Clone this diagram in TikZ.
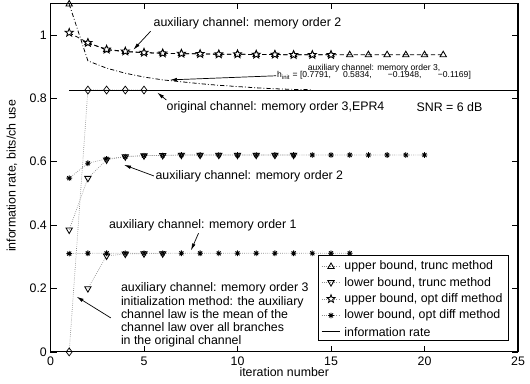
\documentclass[tikz,border=0pt]{standalone}
\usepackage{fontspec}
\setmainfont{Liberation Sans}
\usetikzlibrary{arrows.meta, plotmarks}

% open five-pointed star mark
\pgfdeclareplotmark{pentagram}{%
  \pgfpathmoveto{\pgfpointpolar{90}{\pgfplotmarksize}}%
  \pgfpathlineto{\pgfpointpolar{126}{0.42\pgfplotmarksize}}%
  \pgfpathlineto{\pgfpointpolar{162}{\pgfplotmarksize}}%
  \pgfpathlineto{\pgfpointpolar{198}{0.42\pgfplotmarksize}}%
  \pgfpathlineto{\pgfpointpolar{234}{\pgfplotmarksize}}%
  \pgfpathlineto{\pgfpointpolar{270}{0.42\pgfplotmarksize}}%
  \pgfpathlineto{\pgfpointpolar{306}{\pgfplotmarksize}}%
  \pgfpathlineto{\pgfpointpolar{342}{0.42\pgfplotmarksize}}%
  \pgfpathlineto{\pgfpointpolar{18}{\pgfplotmarksize}}%
  \pgfpathlineto{\pgfpointpolar{54}{0.42\pgfplotmarksize}}%
  \pgfpathclose
  \pgfusepathqfillstroke
}

% eight-armed asterisk (plus and cross)
\pgfdeclareplotmark{octast}{%
  \pgfpathmoveto{\pgfqpoint{-\pgfplotmarksize}{0pt}}%
  \pgfpathlineto{\pgfqpoint{\pgfplotmarksize}{0pt}}%
  \pgfpathmoveto{\pgfqpoint{0pt}{-\pgfplotmarksize}}%
  \pgfpathlineto{\pgfqpoint{0pt}{\pgfplotmarksize}}%
  \pgfpathmoveto{\pgfpoint{-0.707\pgfplotmarksize}{-0.707\pgfplotmarksize}}%
  \pgfpathlineto{\pgfpoint{0.707\pgfplotmarksize}{0.707\pgfplotmarksize}}%
  \pgfpathmoveto{\pgfpoint{-0.707\pgfplotmarksize}{0.707\pgfplotmarksize}}%
  \pgfpathlineto{\pgfpoint{0.707\pgfplotmarksize}{-0.707\pgfplotmarksize}}%
  \pgfusepathqstroke
}

\definecolor{dotgray}{gray}{0.55}

\begin{document}
\begin{tikzpicture}[x=0.4675cm, y=7.925cm,
    lbl/.style={font=\fontsize{8.8}{10.5}\selectfont, inner sep=1pt},
    initlbl/.style={lbl, font=\fontsize{8.8}{9.4}\selectfont, align=left},
    smalllbl/.style={font=\fontsize{6.1}{7}\selectfont, inner sep=0.5pt},
    axisframe/.style={line width=0.8pt},
    lblarrow/.style={-{Latex[length=5pt, width=2.6pt]}, line width=0.5pt},
    uptri/.style={mark=triangle, mark size=2.6pt, mark options={solid, black, fill=white, line width=0.6pt}},
    dntri/.style={mark=triangle, mark size=2.6pt, mark options={solid, black, fill=white, line width=0.6pt, rotate=180}},
    pent/.style={mark=pentagram, mark size=3pt, mark options={solid, black, fill=white, line width=0.6pt}},
    ast/.style={mark=octast, mark size=2pt, mark options={solid, black, line width=0.6pt}},
    diam/.style={mark=diamond, mark size=2.8pt, mark options={solid, black, fill=white, line width=0.5pt}},
    upcurve/.style={dash pattern=on 3pt off 2pt, line width=0.55pt},
    dashdot/.style={dash pattern=on 3pt off 1.5pt on 0.6pt off 1.5pt, line width=0.55pt},
    lowcurve/.style={dotgray, densely dotted, line width=0.5pt},
  ]
  \useasboundingbox (-2.70,-0.101) rectangle (25.64,1.110);

  % lower bounds, memory order 1 and 2
  \draw[lowcurve, ast] plot coordinates {(1,0.310) (2,0.311) (3,0.311) (4,0.311)
    (5,0.311) (6,0.311) (7,0.311) (8,0.311) (9,0.311) (10,0.311) (11,0.311)
    (12,0.311) (13,0.311) (14,0.311) (15,0.311) (16,0.311)};
  \draw[lowcurve, dntri] plot coordinates {(2,0.200) (3,0.303) (4,0.309) (5,0.310) (6,0.310)};
  \draw[lowcurve, ast] plot coordinates {(1,0.548) (2,0.595) (3,0.609) (4,0.616)
    (5,0.619) (6,0.620) (7,0.621) (8,0.621) (9,0.621) (10,0.621) (11,0.621)
    (12,0.621) (13,0.621) (14,0.621) (15,0.621) (16,0.621) (17,0.621) (18,0.621)
    (19,0.621) (20,0.621)};
  \draw[lowcurve, dntri] plot coordinates {(1,0.385) (2,0.548) (3,0.606) (4,0.616)
    (5,0.619) (6,0.620) (7,0.621) (8,0.621) (9,0.621) (10,0.621) (11,0.621)
    (12,0.621) (13,0.621)};

  % mean-law initialisation, memory order 3
  \draw[lowcurve, diam] plot coordinates {(1,0) (2,0.826) (3,0.826) (4,0.826) (5,0.826)};

  % information rate
  \draw[line width=0.5pt] (1,0.826) -- (25,0.826);

  % memory order 3 upper bound
  \draw[dashdot, uptri, mark indices={1}] plot coordinates {(1,1.097) (2,0.918)
    (3,0.895) (4,0.879) (5,0.867) (6,0.858) (7,0.852) (8,0.846) (9,0.841)
    (10,0.837) (11,0.833) (12,0.830) (13,0.828) (14,0.827)};

  % upper bounds, memory order 2
  \draw[upcurve, uptri] plot coordinates {(2,0.975) (3,0.953) (4,0.947) (5,0.944)
    (6,0.942) (7,0.941) (8,0.940) (9,0.939) (10,0.939) (11,0.938) (12,0.938)
    (13,0.937) (14,0.937) (15,0.937) (16,0.937) (17,0.937) (18,0.937) (19,0.937)
    (20,0.937) (21,0.937)};
  \draw[upcurve, pent] plot coordinates {(1,1.007) (2,0.975) (3,0.954) (4,0.948)
    (5,0.944) (6,0.942) (7,0.941) (8,0.940) (9,0.939) (10,0.939) (11,0.938)
    (12,0.938) (13,0.937) (14,0.937) (15,0.937)};

  % axes box and ticks
  \draw[axisframe] (0,0) rectangle (25,1.1);
  \foreach \xt in {0,5,...,25} {
    \draw[line width=0.5pt] (\xt,0) -- ++(0,4.5pt);
    \draw[line width=0.5pt] (\xt,1.1) -- ++(0,-4.5pt);
    \node[lbl, anchor=north, inner sep=3.2pt] (xt\xt) at (\xt,0) {\xt};
  }
  \foreach \yt [count=\i] in {0,0.2,0.4,0.6,0.8,1} {
    \draw[line width=0.5pt] (0,\yt) -- ++(4.5pt,0);
    \draw[line width=0.5pt] (25,\yt) -- ++(-4.5pt,0);
    \node[lbl, anchor=east, inner sep=2.4pt] (yt\i) at (0,\yt) {\yt};
  }
  \node[lbl] (xlbl) at (12.5,-0.063) {iteration number};
  \node[lbl, rotate=90] (ylbl) at (-2.06,0.555) {information rate, bits/ch use};

  % curve labels
  \node[lbl, anchor=west] (auxtwotop) at (5.43,1.035) {auxiliary channel: memory order 2};
  \coordinate (auxtwotoptip) at (4.43,0.953);
  \draw[lblarrow] ([xshift=-1pt]auxtwotop.south west) -- (auxtwotoptip);

  \node[smalllbl] (auxthreelbl) at (17.3,0.894) {auxiliary channel: memory order 3,};
  \node[smalllbl] (hinitlbl) at (17.3,0.871)
    {h\textsubscript{init} = [0.7791,\hspace{1.4em}0.5834,\hspace{1.9em}−0.1948,\hspace{1.9em}−0.1169]};
  \coordinate (hinittip) at (6.39,0.858);
  \draw[lblarrow] (hinitlbl.west) -- (hinittip);

  \node[lbl, anchor=west] (origlbl) at (6.12,0.771) {original channel: memory order 3,EPR4};
  \node[lbl, anchor=west] (snrlbl) at (19.49,0.771) {SNR = 6 dB};
  \coordinate (origtip) at (5.71,0.818);
  \draw[lblarrow] ([xshift=1pt]origlbl.north west) -- (origtip);

  \node[lbl, anchor=west] (auxtwomid) at (5.53,0.555) {auxiliary channel: memory order 2};
  \coordinate (auxtwomidtip) at (3.93,0.590);
  \draw[lblarrow] (auxtwomid.west) -- (auxtwomidtip);

  \node[lbl, anchor=west] (auxonelbl) at (3.04,0.398) {auxiliary channel: memory order 1};
  \coordinate (auxonetip) at (7.51,0.320);
  \draw[lblarrow] ([xshift=-3pt]auxonelbl.south) -- (auxonetip);

  \node[initlbl, anchor=west] (initlbl) at (3.68,0.116)
    {auxiliary channel: memory order 3\\initialization method: the auxiliary\\channel law is the mean of the\\channel law over all branches\\in the original channel};
  \coordinate (inittip) at (1.40,0.174);
  \draw[lblarrow] ([xshift=-6pt, yshift=-2pt]initlbl.west) -- (inittip);

  % legend
  \draw[axisframe, fill=white] (14.32,0.036) rectangle (24.48,0.303);
  \draw[lowcurve, uptri, mark indices={2}] plot coordinates {(14.5,0.269) (15,0.269) (15.48,0.269)};
  \node[lbl, anchor=west] (leg1) at (15.63,0.269) {upper bound, trunc method};
  \draw[lowcurve, dntri, mark indices={2}] plot coordinates {(14.5,0.219) (15,0.219) (15.48,0.219)};
  \node[lbl, anchor=west] (leg2) at (15.63,0.219) {lower bound, trunc method};
  \draw[lowcurve, pent, mark indices={2}] plot coordinates {(14.5,0.167) (15,0.167) (15.48,0.167)};
  \node[lbl, anchor=west] (leg3) at (15.63,0.167) {upper bound, opt diff method};
  \draw[lowcurve, ast, mark indices={2}] plot coordinates {(14.5,0.115) (15,0.115) (15.48,0.115)};
  \node[lbl, anchor=west] (leg4) at (15.63,0.115) {lower bound, opt diff method};
  \draw[line width=0.5pt] (14.5,0.064) -- (15.48,0.064);
  \node[lbl, anchor=west] (leg5) at (15.63,0.064) {information rate};
\end{tikzpicture}
\end{document}
